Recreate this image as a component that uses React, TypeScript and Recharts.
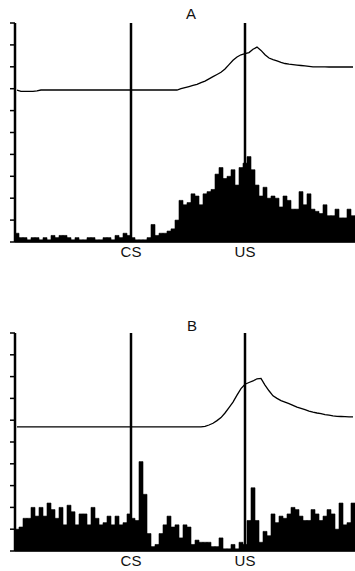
import React from 'react';
import {
  Bar,
  ComposedChart,
  Line,
  ReferenceLine,
  XAxis,
  YAxis,
} from 'recharts';

// spike counts per 4 ms bin (85 bins), panel A
const barsA = [
  4, 2, 2, 1, 2, 2, 1, 2, 1, 3, 2, 3, 3, 2, 1, 2, 1, 1, 2, 2, 1, 1, 2, 2, 1, 3, 2, 4, 3,
  2, 1, 1, 1, 2, 8, 3, 4, 4, 5, 6, 10, 19, 17, 18, 22, 21, 17, 22, 23, 24, 31, 34, 29, 30,
  33, 26, 34, 36, 39, 33, 26, 21, 25, 20, 21, 20, 16, 21, 19, 15, 15, 23, 17, 22, 15, 14,
  13, 17, 12, 12, 15, 11, 11, 15, 12,
];

// averaged response trace, panel A
const lineA = [
  69.4, 68.8, 68.8, 68.8, 68.8, 69, 69.4, 69.4, 69.4, 69.4, 69.4, 69.4, 69.4, 69.4, 69.4, 69.4, 69.4,
  69.4, 69.4, 69.4, 69.4, 69.4, 69.4, 69.4, 69.4, 69.4, 69.4, 69.4, 69.4, 69.4, 69.4, 69.4,
  69.4, 69.4, 69.4, 69.4, 69.4, 69.4, 69.4, 69.4, 69.4, 70, 70.5, 71, 71.5, 72, 72.8, 73.5,
  74.5, 75.5, 76.5, 77.5, 79, 81, 83, 84.5, 85.5, 86, 86.5, 88, 89, 87.5, 85.5, 84, 83.3,
  82.7, 82, 81.5, 81.2, 81, 80.8, 80.6, 80.4, 80.2, 80, 80, 80, 80, 79.9, 79.9, 79.9, 79.9,
  79.9, 79.9, 79.9,
];

// spike counts per bin, panel B
const barsB = [
  10, 11, 15, 15, 20, 16, 20, 16, 22, 19, 15, 20, 12, 21, 18, 12, 17, 17, 12, 20, 15, 12,
  13, 16, 12, 16, 12, 13, 17, 15, 14, 41, 26, 8, 2, 3, 8, 12, 16, 11, 12, 6, 12, 11, 3, 5,
  4, 4, 4, 2, 2, 6, 1, 1, 3, 1, 4, 3, 14, 29, 14, 4, 9, 7, 17, 13, 16, 15, 17, 20, 19, 16,
  14, 14, 19, 17, 14, 16, 19, 17, 10, 22, 12, 13, 22,
];

// averaged response trace, panel B
const lineB = [
  56.9, 56.9, 56.9, 56.9, 56.9, 56.9, 56.9, 56.9, 56.9, 56.9, 56.9, 56.9, 56.9, 56.9, 56.9,
  56.9, 56.9, 56.9, 56.9, 56.9, 56.9, 56.9, 56.9, 56.9, 56.9, 56.9, 56.9, 56.9, 56.9, 56.9,
  56.9, 56.9, 56.9, 56.9, 56.9, 56.9, 56.9, 56.9, 56.9, 56.9, 56.9, 56.9, 56.9, 56.9, 56.9,
  56.9, 56.9, 57.2, 57.8, 58.6, 59.8, 61.2, 63.3, 65.8, 68.3, 71.5, 74.5, 76.5, 77.3, 78,
  79, 79.2, 76.1, 73.5, 71.2, 70, 69, 68.3, 67.6, 66.8, 66, 65.4, 64.8, 64.2, 63.7, 63.3,
  63, 62.6, 62.3, 62, 61.8, 61.7, 61.6, 61.5, 61.5,
];

// event times on the 0..340 time axis
const eventTimes = [116, 230];
const eventLabels = ['CS', 'US'];
const yTicks = [0, 10, 20, 30, 40, 50, 60, 70, 80, 90, 100];
const BIN = 4;

const FONT = '"Liberation Sans", Arial, sans-serif';

interface PanelProps {
  bars: number[];
  trace: number[];
  height: number;
  top: number;
  axisHeight: number;
  bottom: number;
}

function Panel({ bars, trace, height, top, axisHeight, bottom }: PanelProps) {
  const data = bars.map((v, i) => ({ t: i * BIN + BIN / 2, count: v, trace: trace[i] }));
  return (
    <ComposedChart
      width={355}
      height={height}
      data={data}
      margin={{ top, right: 0, bottom, left: 0 }}
      barCategoryGap={0}
      barGap={0}
    >
      <XAxis
        dataKey="t"
        type="number"
        domain={[0, 340]}
        ticks={eventTimes}
        tickFormatter={(v: number) => eventLabels[eventTimes.indexOf(v)] ?? ''}
        axisLine={false}
        tickLine={false}
        tickSize={0}
        height={axisHeight}
        tickMargin={4}
        tick={{ fill: '#111', fontSize: 15, fontFamily: FONT }}
        interval={0}
      />
      <YAxis
        domain={[0, 100]}
        ticks={yTicks}
        width={15}
        tickFormatter={() => ''}
        tickSize={5}
        tickLine={{ stroke: '#000', strokeWidth: 1.5 }}
        axisLine={{ stroke: '#000', strokeWidth: 2.5 }}
      />
      <Bar
        dataKey="count"
        fill="#000"
        stroke="#000"
        strokeWidth={0.6}
        isAnimationActive={false}
      />
      <Line
        dataKey="trace"
        type="linear"
        stroke="#000"
        strokeWidth={1.3}
        dot={false}
        isAnimationActive={false}
      />
      <ReferenceLine y={0} stroke="#000" strokeWidth={1.5} />
      {eventTimes.map((t) => (
        <ReferenceLine key={t} x={t} stroke="#000" strokeWidth={2.5} />
      ))}
    </ComposedChart>
  );
}

export default function App() {
  const titleStyle: React.CSSProperties = {
    position: 'absolute',
    width: 40,
    textAlign: 'center',
    fontFamily: FONT,
    fontSize: 15,
    color: '#111',
  };
  return (
    <div style={{ position: 'relative', width: 355, height: 571, background: '#fff' }}>
      <style>{'body{margin:0}'}</style>
      <div style={{ ...titleStyle, left: 171, top: 5 }}>A</div>
      <div style={{ ...titleStyle, left: 172, top: 317 }}>B</div>
      <div style={{ position: 'absolute', left: 0, top: 0 }}>
        <Panel bars={barsA} trace={lineA} height={290} top={23} axisHeight={25} bottom={23} />
      </div>
      <div style={{ position: 'absolute', left: 0, top: 290 }}>
        <Panel bars={barsB} trace={lineB} height={281} top={43} axisHeight={20} bottom={0} />
      </div>
    </div>
  );
}
